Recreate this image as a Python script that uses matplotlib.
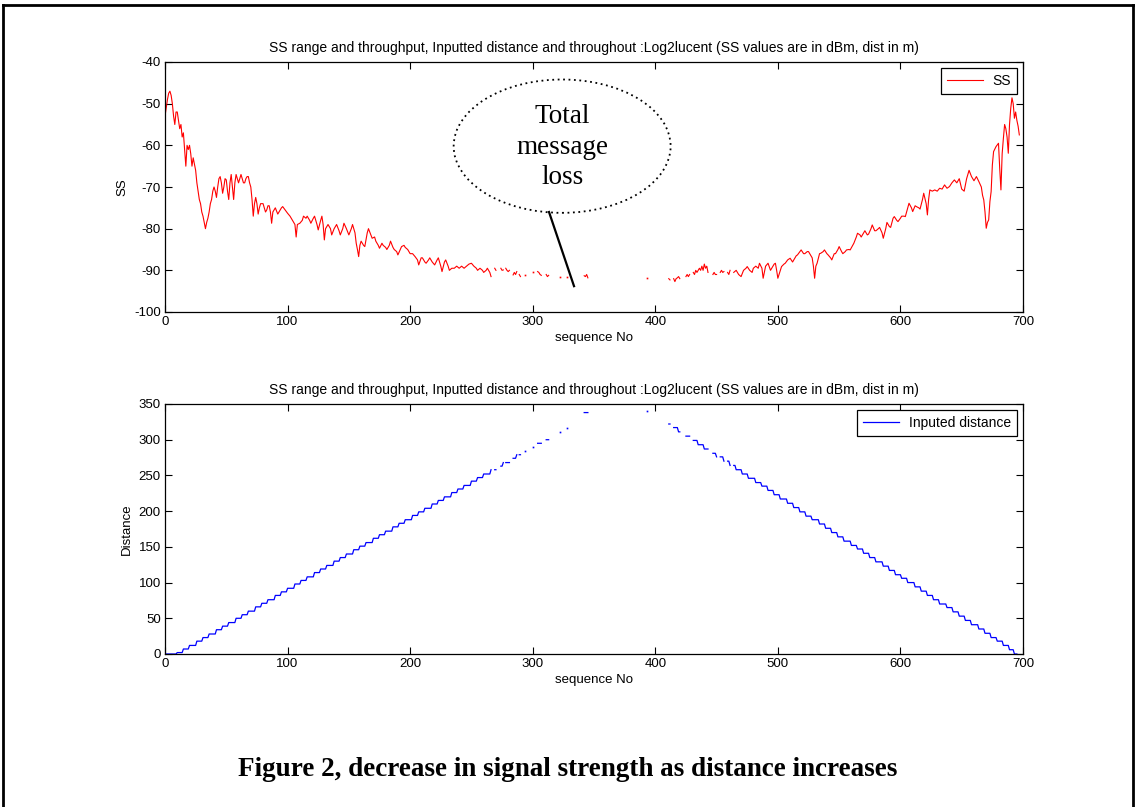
import numpy as np
import matplotlib
matplotlib.use('Agg')
import matplotlib.pyplot as plt
from matplotlib.patches import Ellipse
from matplotlib.lines import Line2D

plt.rcParams['font.family'] = ['Liberation Sans', 'DejaVu Sans']
plt.rcParams['axes.unicode_minus'] = False

TITLE = ('SS range and throughput, Inputted distance and throughout :Log2lucent '
         '(SS values are in dBm, dist in m)')
CAPTION = 'Figure 2, decrease in signal strength as distance increases'

# signal strength (dBm) vs sequence No, None = message lost
ss_seq_near = [0, 1, 2, 3, 4, 5, 6, 7, 8, 9,
               10, 11, 12, 13, 14, 15, 16, 17, 18, 19,
               20, 21, 22, 23, 24, 25, 26, 27, 28, 29,
               30, 31, 32, 33, 34, 35, 36, 37, 38, 39,
               40, 41, 42, 43, 44, 45, 46, 47, 48, 49,
               50, 51, 52, 53, 54, 55, 56, 57, 58, 59,
               60, 61, 62, 63, 64, 65, 66, 67, 68, 69,
               70, 71, 72, 73, 74, 75, 76, 77, 78, 80,
               81, 82, 83, 84, 85, 86, 87, 88, 90, 92,
               93, 95, 96, 98, 100, 102, 104, 106, 107, 108,
               110, 112, 113, 115, 116, 118, 119, 121, 122, 124,
               125, 127, 128, 129, 130, 131, 133, 135, 136, 138,
               140, 142, 143, 145, 146, 148, 150, 152, 153, 155,
               156, 157, 158, 159, 160, 162, 163, 165, 166, 168,
               169, 171, 172, 174, 175, 177, 178, 180, 181, 183,
               184, 186, 187, 189, 190, 192, 193, 195, 196, 198,
               200, 202, 204, 206, 207, 209, 210, 212, 213, 215,
               216, 218, 220, 222, 223, 225, 226, 228, 229, 231,
               232, 234, 236, 238, 240, 242, 244, 246, 248, 250,
               252, 254, 255, 257, 259, 260, 262, 263, 265, 266]
ss_dbm_near = [-53, -51, -49, -47.5, -47, -48, -50, -53, -55, -52,
               -52, -54, -56, -55, -58, -57, -61, -65, -60, -61,
               -60, -62, -65, -63, -64.5, -66, -69, -71, -73, -74,
               -76, -77, -78.5, -80, -78.5, -77.5, -76, -74, -73, -71,
               -70, -71, -72.5, -70, -68, -67.5, -69, -71.5, -70, -68,
               -68.3, -71, -73, -69, -67, -70, -73, -69, -67, -68,
               -69, -68, -67, -68, -69, -69, -68, -67.5, -67.5, -69,
               -70, -73, -77, -74, -72.5, -74, -76.5, -75, -74, -74,
               -75, -76, -75.5, -74.5, -74.5, -76, -78.7, -76, -75, -76.5,
               -76, -75, -74.7, -75.5, -76.3, -77, -78, -79, -82, -79,
               -78.7, -78, -77, -77.5, -77, -78, -78.7, -77.5, -77, -79,
               -80.3, -78, -77, -79, -82.7, -80, -79, -80, -81.5, -80,
               -79, -80.5, -81.5, -80, -78.7, -80, -81.5, -80, -79, -81,
               -83.5, -85, -86.7, -84, -83, -84, -84.3, -81, -80, -81.5,
               -82.3, -82, -83, -84, -84.7, -83.5, -84, -84.5, -85, -84,
               -83, -84.5, -85, -85.5, -86.3, -85, -84.3, -84, -84.5, -85,
               -86, -86, -86.7, -87.5, -88.7, -87, -87, -88, -88.3, -87.5,
               -87, -88, -88.7, -87.5, -87, -89, -90.3, -88, -87.5, -89,
               -90, -89.5, -89.5, -89, -89.5, -89, -89.5, -89, -88.5, -88.3,
               -89, -89.5, -90, -89.5, -90, -90.5, -90, -89.5, -90.5, -91.5]

ss_seq_mid = [268, 269, 270, 273, 274, 275, 276, 277, 278, 279,
              280, 281, 283, 284, 285, 286, 287, 288, 289, 290,
              292, 294, 297, 300, 302, 304, 305, 306, 307, 309,
              311, 312, 313, 318, 322, 325, 328, 335, 342, 343,
              344, 345, 370, 393, 400, 411, 412, 414, 415, 416,
              417, 418, 419, 420, 422, 425, 426, 427, 428, 430,
              431, 432, 433, 434, 435, 436, 437, 438, 439, 440,
              441, 442, 443, 445, 447, 448, 449, 450, 452, 453,
              454, 455, 456, 458, 459, 460, 461, 463]
ss_dbm_mid = [None, -89.5, -90, None, -89.5, -90, -89.9, None, -89.5, -90,
              -90.3, -90, None, -91.1, -90.5, -91, -90.3, None, -91, -91.5,
              None, -91.2, None, -90.5, None, -90.3, -90.5, -91, -91.2, None,
              -91, -91.5, -91.2, None, -91.5, None, -91.6, None, -91.3, -91.5,
              -91, -91.8, None, -91.8, None, -92, -92.3, None, -92, -92.7,
              -92, -91.8, -91.5, -92, None, -91.5, -91, -91.5, -91, None,
              -90.5, -91, -90, -90.5, -90, -89.5, -90, -89, -90, -88.5,
              -89.5, -89, -90.5, None, -91, -90.5, -91, -91, None, -90.5,
              -90, -90.5, -90.3, None, -90.5, -91, -90, None]

ss_seq_far = [464, 466, 468, 470, 472, 474, 475, 477, 479, 480,
              482, 484, 485, 487, 488, 490, 492, 494, 495, 497,
              498, 499, 500, 502, 503, 505, 506, 508, 510, 512,
              513, 515, 516, 518, 519, 521, 522, 524, 525, 527,
              528, 529, 530, 531, 532, 534, 535, 537, 538, 540,
              541, 543, 544, 546, 547, 549, 550, 552, 553, 555,
              556, 558, 559, 561, 562, 564, 565, 567, 568, 570,
              571, 573, 574, 576, 577, 579, 580, 582, 583, 585,
              586, 588, 589, 591, 592, 594, 595, 597, 598, 600,
              601, 603, 604, 606, 607, 609, 610, 612, 613, 615,
              616, 618, 619, 621, 622, 623, 624, 626, 628, 630,
              632, 634, 636, 638, 640, 642, 644, 646, 648, 650,
              652, 654, 656, 658, 660, 662, 664, 666, 667, 668,
              669, 670, 671, 672, 673, 674, 675, 676, 678, 680,
              681, 682, 683, 684, 685, 686, 687, 688, 689, 690,
              691, 692, 693, 694, 695, 696, 697]
ss_dbm_far = [-90.5, -90, -91, -91.5, -90, -89.5, -89.1, -90, -90.5, -89.5,
              -89, -89.5, -88.3, -89.5, -91.9, -89, -88.3, -90, -89.5, -88.5,
              -88.3, -90, -91.9, -90, -89.1, -88.5, -88.3, -87.5, -87.1, -88,
              -87.5, -86.5, -86.3, -85.5, -85.1, -86, -86, -85.5, -85.5, -86.5,
              -87, -89, -91.9, -89, -88.3, -86, -85.9, -85.5, -85.1, -86,
              -86.3, -87, -87.5, -86, -86, -85, -84.3, -85.5, -86, -85.5,
              -85.1, -85, -85.1, -84, -83.5, -82, -81.1, -81.5, -82, -81,
              -80.5, -81.5, -81.3, -80, -79.1, -80.5, -80.5, -80, -79.7, -81,
              -82.3, -80, -78.5, -79.5, -79.7, -77.5, -77.1, -78, -78.3, -77.5,
              -77, -77, -77.1, -75, -73.9, -75, -75.9, -74.5, -74.7, -75,
              -75.3, -73, -71.5, -74, -76.7, -73, -70.7, -71, -70.7, -71,
              -70.3, -70.5, -69.5, -70.3, -69.9, -69, -68.3, -69, -68, -70.5,
              -71, -68, -66, -67.5, -68.5, -67.5, -68.7, -70, -72, -73.1,
              -76, -79.9, -78.5, -77.9, -73.5, -71.1, -64.7, -61.5, -60.3, -59.5,
              -65.5, -70.7, -62, -58.3, -55, -56, -58, -61.9, -55, -51.1,
              -48.6, -50, -53.5, -52, -54, -55.4, -57.5]

# inputed distance (m): staircase, start sample of each step and its level
dist_up_start = [0, 10, 15, 20, 26, 31, 36, 42, 47, 52, 58, 63, 68, 74, 79, 84,
                 90, 95, 100, 106, 111, 116, 122, 127, 132, 138, 143, 148, 154,
                 159, 164, 170, 175, 180, 186, 191, 196, 202, 207, 212, 218, 223,
                 228, 234, 239, 244, 250, 255, 260, 266, 271, 276, 282, 287, 292,
                 298, 303, 308, 314, 319, 324, 330, 335, 340, 346]
dist_up_level = [0, 2, 7, 12, 18, 23, 28, 34, 39, 44, 50, 55, 60, 66, 71, 76,
                 82, 87, 92, 98, 103, 108, 114, 119, 124, 130, 135, 140, 146,
                 151, 156, 162, 167, 172, 178, 183, 188, 194, 199, 204, 210, 215,
                 220, 226, 231, 236, 242, 247, 252, 258, 263, 268, 274, 279, 284,
                 290, 295, 300, 306, 311, 316, 322, 329, 338, 340]
dist_down_start = [393, 398, 404, 409, 414, 419, 424, 430, 435, 440, 445, 450,
                   456, 461, 466, 471, 476, 482, 487, 492, 497, 502, 508, 513,
                   518, 523, 528, 534, 539, 544, 549, 554, 560, 565, 570, 575,
                   580, 586, 591, 596, 601, 606, 612, 617, 622, 627, 632, 638,
                   643, 648, 653, 658, 664, 669, 674, 679, 684, 689, 693]
dist_down_level = [340, 334, 328, 322, 317, 311, 305, 299, 293, 287, 281, 276,
                   270, 264, 258, 252, 246, 240, 235, 229, 223, 217, 211, 205,
                   199, 193, 188, 182, 176, 170, 164, 158, 152, 147, 141, 135,
                   129, 123, 117, 111, 106, 100, 94, 88, 82, 76, 70, 65,
                   59, 53, 47, 41, 35, 29, 23, 18, 12, 6, 0]

# samples that actually arrived (inclusive ranges)
received = [(0, 266), (269, 270), (274, 276), (278, 281), (284, 287), (289, 290),
            (294, 294), (300, 300), (304, 307), (311, 313), (322, 322), (328, 328),
            (342, 345), (393, 393), (411, 412), (415, 420), (425, 428), (431, 443),
            (447, 450), (453, 456), (459, 461), (464, 695)]


def lone_points(x, y):
    ok = ~np.isnan(y)
    prev = np.r_[False, ok[:-1]]
    nxt = np.r_[ok[1:], False]
    lone = ok & ~prev & ~nxt
    return x[lone], y[lone]


ss_x = np.array(ss_seq_near + ss_seq_mid + ss_seq_far, dtype=float)
ss_y = np.array([np.nan if v is None else v
                 for v in ss_dbm_near + ss_dbm_mid + ss_dbm_far], dtype=float)

seq = np.arange(0, 696)
dist = np.full(seq.shape, np.nan)
up = seq < dist_down_start[0]
dist[up] = np.array(dist_up_level)[np.searchsorted(dist_up_start, seq[up], 'right') - 1]
down = ~up
dist[down] = np.array(dist_down_level)[np.searchsorted(dist_down_start, seq[down], 'right') - 1]
got = np.zeros(seq.shape, bool)
for a, b in received:
    got[(seq >= a) & (seq <= b)] = True
dist[~got] = np.nan

fig = plt.figure(figsize=(11.36, 8.07), dpi=100)
W, H = 1136.0, 807.0

ax1 = fig.add_axes([165 / W, 1 - 312 / H, 858 / W, 250 / H])
ax2 = fig.add_axes([165 / W, 1 - 654 / H, 858 / W, 250 / H])

line_ss, = ax1.plot(ss_x, ss_y, color='red', lw=0.8, label='SS')
lx, ly = lone_points(ss_x, ss_y)
ax1.plot(lx, ly, ls='none', marker='s', ms=1.2, mec='none', mfc='red')

line_d, = ax2.plot(seq, dist, color='blue', lw=0.9, label='Inputed distance')
lx, ly = lone_points(seq.astype(float), dist)
ax2.plot(lx, ly, ls='none', marker='s', ms=1.2, mec='none', mfc='blue')

ax1.set_xlim(0, 700)
ax1.set_ylim(-100, -40)
ax1.set_yticks(np.arange(-100, -39, 10))
ax1.set_ylabel('SS', fontsize=9.5)
ax2.set_xlim(0, 700)
ax2.set_ylim(0, 350)
ax2.set_yticks(np.arange(0, 351, 50))
ax2.set_ylabel('Distance', fontsize=9.5)

for ax in (ax1, ax2):
    ax.set_xticks(np.arange(0, 701, 100))
    ax.set_title(TITLE, fontsize=10, pad=7)
    ax.set_xlabel('sequence No', fontsize=9.5, labelpad=3)
    ax.tick_params(direction='in', top=True, right=True, length=5, width=0.8,
                   labelsize=9.5, pad=3)
    for sp in ax.spines.values():
        sp.set_linewidth(0.9)
    leg = ax.legend(loc='upper right', fontsize=10, fancybox=False,
                    edgecolor='black', framealpha=1, borderaxespad=0.4,
                    handlelength=2.6, borderpad=0.45, handletextpad=0.7)
    leg.get_frame().set_linewidth(0.9)

# annotation: dotted ellipse with pointer
ax1.add_patch(Ellipse((324, -60.2), 177, 32, fill=False, ls=(0, (1, 2)),
                      lw=1.3, ec='black'))
ax1.text(324, -60.4, 'Total\nmessage\nloss', ha='center', va='center',
         fontsize=19.5, family='Liberation Serif', linespacing=1.28)
ax1.plot([313.3, 333.7], [-76.0, -93.8], color='black', lw=1.6)

# page frame
frame = dict(color='black', lw=2, transform=fig.transFigure)
fig.add_artist(Line2D([3 / W, 1133 / W], [1 - 5 / H, 1 - 5 / H], **frame))
fig.add_artist(Line2D([3 / W, 3 / W], [0, 1 - 5 / H], **frame))
fig.add_artist(Line2D([1133 / W, 1133 / W], [0, 1 - 5 / H], **frame))

fig.text(0.5, 1 - 769 / H, CAPTION, ha='center', va='center', fontsize=19.5,
         fontweight='bold', family='Liberation Serif')

fig.savefig('out.png', dpi=100)
